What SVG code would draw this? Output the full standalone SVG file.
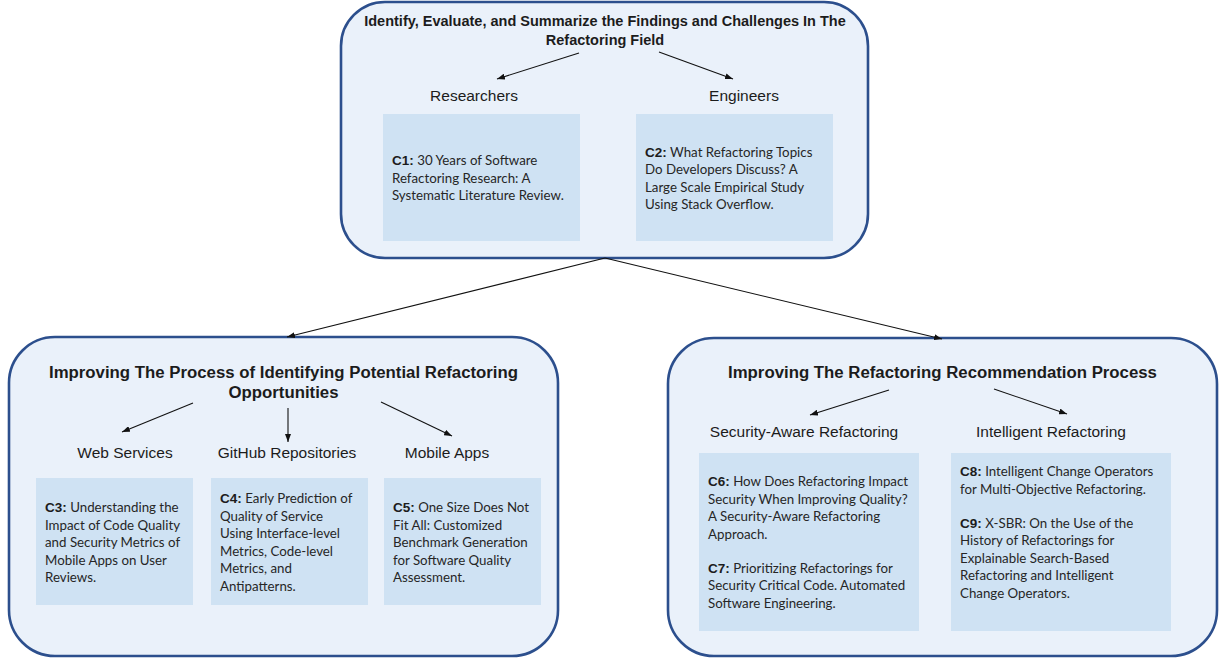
<svg xmlns="http://www.w3.org/2000/svg" width="1221" height="659" viewBox="0 0 1221 659">
  <style>
    .group { fill: #eaf1fa; stroke: #2c4f8d; stroke-width: 2.6; }
    .card { fill: #cfe2f3; }
    .title { font-family: "Liberation Sans", Arial, sans-serif; font-weight: bold; fill: #1c1c1c; text-anchor: middle; }
    .label { font-family: "Liberation Sans", Arial, sans-serif; font-size: 15.5px; fill: #1c1c1c; text-anchor: middle; }
    .body { font-family: Lato, "Open Sans", sans-serif; font-size: 13.3px; fill: #262626; }
    .tag { font-family: "Liberation Sans", Arial, sans-serif; font-weight: bold; font-size: 13.5px; fill: #1c1c1c; }
    .link { stroke: #111; stroke-width: 1.1; fill: none; marker-end: url(#head); }
  </style>
  <defs>
    <marker id="head" viewBox="0 0 8 6" refX="8" refY="3" markerWidth="8" markerHeight="6" markerUnits="userSpaceOnUse" orient="auto">
      <path d="M0,0 L8,3 L0,6 z" fill="#111"/>
    </marker>
  </defs>

  <!-- Top group: survey of the refactoring field -->
  <g id="survey">
    <rect class="group" x="341" y="2" width="527" height="256" rx="44"/>
    <text class="title" font-size="14.5" x="605" y="26">Identify, Evaluate, and Summarize the Findings and Challenges In The</text>
    <text class="title" font-size="14.5" x="605" y="45">Refactoring Field</text>
  </g>
  <g id="researchers">
    <text class="label" x="474" y="101">Researchers</text>
    <rect class="card" x="383" y="114" width="197" height="127"/>
    <text class="body" x="392" y="165"><tspan class="tag">C1:</tspan> 30 Years of Software</text>
    <text class="body" x="392" y="182.5">Refactoring Research: A</text>
    <text class="body" x="392" y="200">Systematic Literature Review.</text>
  </g>
  <g id="engineers">
    <text class="label" x="744" y="101">Engineers</text>
    <rect class="card" x="636" y="114" width="197" height="127"/>
    <text class="body" x="645" y="156.5"><tspan class="tag">C2:</tspan> What Refactoring Topics</text>
    <text class="body" x="645" y="174">Do Developers Discuss? A</text>
    <text class="body" x="645" y="191.5">Large Scale Empirical Study</text>
    <text class="body" x="645" y="209">Using Stack Overflow.</text>
  </g>

  <!-- Left group: identifying refactoring opportunities -->
  <g id="opportunities">
    <rect class="group" x="9" y="337" width="549" height="319" rx="46"/>
    <text class="title" font-size="16.8" x="283.5" y="378">Improving The Process of Identifying Potential Refactoring</text>
    <text class="title" font-size="16.8" x="283.5" y="398">Opportunities</text>
  </g>
  <g id="web-services">
    <text class="label" x="125" y="458">Web Services</text>
    <rect class="card" x="36" y="478" width="157" height="127"/>
    <text class="body" x="45" y="512"><tspan class="tag">C3:</tspan> Understanding the</text>
    <text class="body" x="45" y="529.5">Impact of Code Quality</text>
    <text class="body" x="45" y="547">and Security Metrics of</text>
    <text class="body" x="45" y="564.5">Mobile Apps on User</text>
    <text class="body" x="45" y="582">Reviews.</text>
  </g>
  <g id="github">
    <text class="label" x="287" y="458">GitHub Repositories</text>
    <rect class="card" x="211" y="478" width="157" height="127"/>
    <text class="body" x="220" y="503"><tspan class="tag">C4:</tspan> Early Prediction of</text>
    <text class="body" x="220" y="520.5">Quality of Service</text>
    <text class="body" x="220" y="538">Using Interface-level</text>
    <text class="body" x="220" y="555.5">Metrics, Code-level</text>
    <text class="body" x="220" y="573">Metrics, and</text>
    <text class="body" x="220" y="590.5">Antipatterns.</text>
  </g>
  <g id="mobile-apps">
    <text class="label" x="447" y="458">Mobile Apps</text>
    <rect class="card" x="384" y="478" width="157" height="127"/>
    <text class="body" x="393" y="512"><tspan class="tag">C5:</tspan> One Size Does Not</text>
    <text class="body" x="393" y="529.5">Fit All: Customized</text>
    <text class="body" x="393" y="547">Benchmark Generation</text>
    <text class="body" x="393" y="564.5">for Software Quality</text>
    <text class="body" x="393" y="582">Assessment.</text>
  </g>

  <!-- Right group: refactoring recommendation -->
  <g id="recommendation">
    <rect class="group" x="668" y="338" width="549" height="318" rx="46"/>
    <text class="title" font-size="16.8" x="942.5" y="378">Improving The Refactoring Recommendation Process</text>
  </g>
  <g id="security-aware">
    <text class="label" x="804" y="437">Security-Aware Refactoring</text>
    <rect class="card" x="699" y="453" width="220" height="178"/>
    <text class="body" x="708" y="486"><tspan class="tag">C6:</tspan> How Does Refactoring Impact</text>
    <text class="body" x="708" y="503.5">Security When Improving Quality?</text>
    <text class="body" x="708" y="521">A Security-Aware Refactoring</text>
    <text class="body" x="708" y="538.5">Approach.</text>
    <text class="body" x="708" y="572.5"><tspan class="tag">C7:</tspan> Prioritizing Refactorings for</text>
    <text class="body" x="708" y="590">Security Critical Code. Automated</text>
    <text class="body" x="708" y="607.5">Software Engineering.</text>
  </g>
  <g id="intelligent">
    <text class="label" x="1051" y="437">Intelligent Refactoring</text>
    <rect class="card" x="951" y="453" width="220" height="178"/>
    <text class="body" x="960" y="476"><tspan class="tag">C8:</tspan> Intelligent Change Operators</text>
    <text class="body" x="960" y="493.5">for Multi-Objective Refactoring.</text>
    <text class="body" x="960" y="527.5"><tspan class="tag">C9:</tspan> X-SBR: On the Use of the</text>
    <text class="body" x="960" y="545">History of Refactorings for</text>
    <text class="body" x="960" y="562.5">Explainable Search-Based</text>
    <text class="body" x="960" y="580">Refactoring and Intelligent</text>
    <text class="body" x="960" y="597.5">Change Operators.</text>
  </g>

  <!-- Connectors -->
  <g id="connectors">
    <line class="link" x1="579" y1="53" x2="497" y2="79"/>
    <line class="link" x1="659" y1="52" x2="733" y2="79"/>
    <line class="link" x1="605" y1="258" x2="287" y2="337"/>
    <line class="link" x1="605" y1="258" x2="942" y2="339"/>
    <line class="link" x1="193" y1="403" x2="122" y2="432"/>
    <line class="link" x1="288" y1="408" x2="288" y2="442"/>
    <line class="link" x1="381" y1="402" x2="452" y2="436"/>
    <line class="link" x1="889" y1="390" x2="810" y2="415"/>
    <line class="link" x1="994" y1="389" x2="1067" y2="414"/>
  </g>
</svg>
